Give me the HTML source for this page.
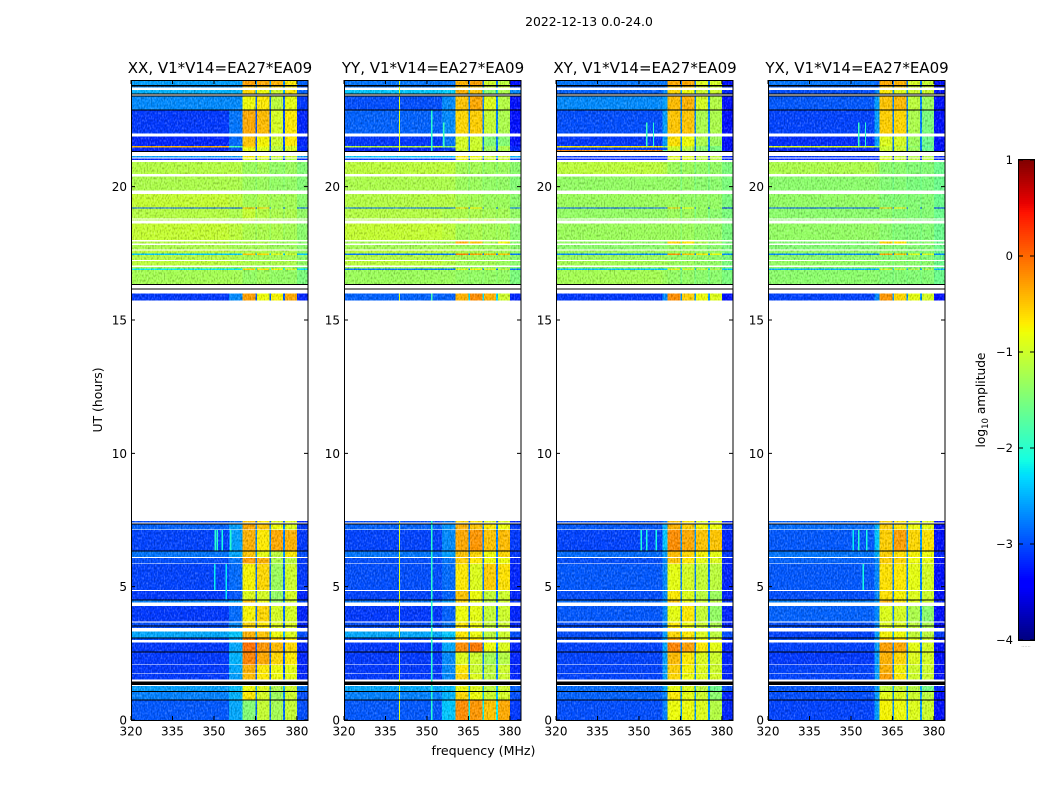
<!DOCTYPE html>
<html lang="en">
<head>
<meta charset="utf-8">
<title>2022-12-13 0.0-24.0</title>
<style>
html,body{margin:0;padding:0;background:#fff;width:1050px;height:800px;overflow:hidden}
svg{display:block}
text{font-family:"DejaVu Sans","Liberation Sans",sans-serif;fill:#000}
</style>
</head>
<body>
<svg id="figure" xmlns="http://www.w3.org/2000/svg" width="1050" height="800" viewBox="0 0 1050 800">
  <defs>
    <filter id="grain" filterUnits="objectBoundingBox" x="0" y="0" width="1" height="1" color-interpolation-filters="sRGB">
      <feTurbulence type="fractalNoise" baseFrequency="0.7 0.4" numOctaves="1" seed="4" result="n"/>
      <feColorMatrix in="n" type="matrix" values="0.42 0 0 0 0.29  0.42 0 0 0 0.29  0.42 0 0 0 0.29  0 0 0 0 1" result="g"/>
      <feBlend in="g" in2="SourceGraphic" mode="hard-light" result="b"/>
      <feComposite in="b" in2="SourceAlpha" operator="in"/>
    </filter>
  </defs>
  <text x="589" y="26" font-size="12.4" text-anchor="middle">2022-12-13 0.0-24.0</text>
  <text x="483.5" y="755" font-size="12.6" text-anchor="middle">frequency (MHz)</text>
  <text x="102" y="400" font-size="12.4" text-anchor="middle" transform="rotate(-90 102 400)">UT (hours)</text>
  <text x="985" y="400" font-size="12.2" text-anchor="middle" transform="rotate(-90 985 400)">log<tspan font-size="8.5" dy="3">10</tspan><tspan dy="-3"> amplitude</tspan></text>
  <g id="panels"></g>
  <g id="colorbar"></g>
  <text x="1026" y="647" font-size="5" text-anchor="middle" style="fill:#888">......</text>
</svg>
<script>
// ---- shared axis values ----
const panelTitles = ["XX, V1*V14=EA27*EA09","YY, V1*V14=EA27*EA09","XY, V1*V14=EA27*EA09","YX, V1*V14=EA27*EA09"];
const freqTicks = [320,335,350,365,380];
const hourTicks = [0,5,10,15,20];
const colorbarTicks = [1,0,-1,-2,-3,-4];
// frequency column edges in MHz; the first inner edge (start of the transition column) differs per panel
const freqEdges = [320,355.5,360.3,365,365.6,370,370.6,375,375.6,380,384];
const transitionStart = [355.5,355.5,358.5,358.5];
// which level of a row each column uses: low, mid, b1, gap, b2, gap, b3, gap, b4, high
const columnLevel = [0,1,2,7,3,7,4,7,5,6];
// time segments in hours
const rowStart = [0,.775,1.0875,1.525,1.75,2.0875,2.5625,3,3.0875,3.45,3.55,3.6875,4.4,4.525,4.875,5.875,6.1125,6.3625,7.15,7.4,15.725,16.35,16.88,16.94,17.04,17.25,17.44,17.49,17.65,17.875,18,18.725,18.81,19.175,19.21,19.85,20.475,21,21.1,21.34,21.38,21.47,21.53,22,22.89,23.5,23.71,23.81];
const rowEnd   = [.75,1.0625,1.275,1.725,2.0625,2.5375,2.9125,3.0625,3.3125,3.525,3.65,4.275,4.5,4.8375,5.85,6.075,6.325,7.125,7.325,7.46,16,16.88,16.94,16.99,17.21,17.44,17.49,17.61,17.81,17.94,18.625,18.775,19.175,19.21,19.725,20.375,20.925,21.05,21.15,21.38,21.47,21.53,21.875,22.85,23.4,23.625,23.75,24];
// flagged (black) time segments in hours
const blackStart = [.75,1.0625,1.3125,2.5375,3.0625,3.525,4.5,6.325,7.325,16.16,16.31,21.3,22.85,23.4,23.455,23.75];
const blackEnd   = [.775,1.0875,1.4375,2.5625,3.0875,3.55,4.525,6.3625,7.375,16.19,16.35,21.34,22.89,23.42,23.5,23.81];

// ---- log10 amplitude per row: low, mid, b1, b2, b3, b4, high, gap ----
const levelsXX = [
[-2.95,-2.55,-1.45,-1.05,-1.25,-1.05,-3,-2.85],
[-2.75,-2.5,-.7,-.95,-1.3,-1,-3,-2.75],
[-2.6,-2.45,-.8,-.9,-1.2,-1,-2.8,-2.55],
[-3.1,-2.6,-.45,-.7,-.8,-.85,-3.2,-2.95],
[-3.1,-2.55,-.4,-.7,-.8,-.85,-3.2,-2.95],
[-3.1,-2.5,-.15,-.35,-.6,-.7,-3.2,-2.95],
[-3.1,-2.55,-.05,-.25,-.45,-.6,-3.2,-2.95],
[-3,-2.6,-.1,-.3,-.5,-.7,-3.2,-2.95],
[-2.55,-2.4,-.4,-.5,-.8,-.9,-3,-2.55],
[-3,-2.7,-.6,-.7,-.9,-.9,-3.2,-2.85],
[-3,-2.7,-.6,-.7,-.9,-.9,-3.2,-2.85],
[-3.1,-2.85,-.75,-.6,-.95,-.95,-3.2,-2.85],
[-2.75,-2.55,-.5,-.8,-1.3,-1,-3,-2.65],
[-3.1,-2.95,-.9,-.95,-1.35,-.95,-3.2,-2.85],
[-3.05,-2.85,-.75,-.6,-1.3,-1,-3.1,-2.85],
[-3,-2.8,-.3,-.4,-1.2,-1.1,-3.1,-2.85],
[-2.8,-2.55,-.5,-.85,-1.1,-.7,-3,-2.65],
[-3.05,-2.6,-.4,-.7,-.35,-.4,-3.1,-2.75],
[-2.9,-2.6,-.35,-.5,-.8,-.9,-3.1,-2.75],
[-3,-2.85,-.5,-.7,-.9,-.9,-3.2,-2.95],
[-3.1,-2.7,-.3,-.8,-.75,-.35,-3.2,-2.95],
[-1.25,-1.25,-1.35,-1.3,-1.35,-1.35,-1.5,-1.35],
[-2.2,-2.2,-.6,-.7,-.8,-1,-2.3,-2.2],
[-1.25,-1.3,-1.35,-1.35,-1.35,-1.35,-1.5,-1.35],
[-1.1,-1.15,-1.2,-1.2,-1.2,-1.2,-1.35,-1.25],
[-1.15,-1.2,-1.25,-1.25,-1.25,-1.25,-1.4,-1.3],
[-2.4,-2.4,-.5,-.6,-.9,-1,-2.4,-2.4],
[-1.1,-1.15,-1.2,-1.2,-1.2,-1.2,-1.35,-1.25],
[-1.2,-1.25,-1.25,-1.25,-1.3,-1.3,-1.4,-1.3],
[-1.15,-1.25,-1.2,-1.2,-1.3,-1.3,-1.4,-1.3],
[-1.05,-1.1,-1.2,-1.2,-1.2,-1.25,-1.4,-1.3],
[-1.15,-1.2,-1.05,-1.15,-1.2,-1.2,-1.35,-1.3],
[-1.15,-1.2,-1.05,-1.15,-1.2,-1.2,-1.35,-1.3],
[-3,-3,-.4,-.5,-1.3,-1.3,-3,-3],
[-1.05,-1.1,-1.25,-1.2,-1.25,-1.25,-1.4,-1.3],
[-1.2,-1.2,-1.3,-1.3,-1.35,-1.35,-1.45,-1.4],
[-1.15,-1.15,-1.3,-1.25,-1.35,-1.3,-1.45,-1.4],
[-3.2,-3.2,-.9,-1,-1.2,-1.2,-3.2,-3.2],
[-2.6,-2.6,-.7,-.8,-1,-1,-2.6,-2.6],
[-3.2,-3,-.8,-.9,-1.1,-.9,-3.2,-3],
[-3.2,-3,-.8,-.9,-1.1,-.9,-3.2,-3],
[-.4,-1.8,-.6,-.8,-1.1,-.9,-3.1,-2.9],
[-3.2,-2.85,-.5,-.75,-1,-.7,-3.2,-3],
[-3.1,-2.8,-.35,-.45,-.95,-.7,-3.2,-3],
[-2.7,-2.7,-.8,-.7,-1.1,-.85,-3.1,-2.9],
[-2.5,-2.5,-.6,-.8,-1,-.7,-2.9,-2.55],
[-2.7,-2.7,-.5,-.5,-.6,-.7,-3,-2.65],
[-2.6,-2.6,-.3,-.35,-.4,-.7,-2.9,-2.65]];

const levelsYY = [
[-2.95,-2.4,-.2,-.25,-.5,-.35,-3.1,-2.2],
[-2.75,-2.5,-.6,-.8,-1,-.95,-3,-2.45],
[-2.55,-2.45,-.8,-.9,-1.1,-1,-2.9,-2.45],
[-3.1,-2.7,-.6,-.9,-1.1,-1,-3.2,-2.75],
[-3.1,-2.7,-.7,-1,-1.1,-1,-3.2,-2.75],
[-3.1,-2.7,-.9,-1,-1.25,-1.15,-3.2,-2.75],
[-3.1,-2.55,-.2,-.1,-.8,-.9,-3.2,-2.75],
[-3,-2.6,-.6,-.7,-1,-1,-3.2,-2.75],
[-2.55,-2.4,-.7,-.8,-1.1,-1,-3,-2.55],
[-3,-2.8,-.7,-.8,-1.05,-1,-3.2,-2.85],
[-3,-2.8,-.7,-.8,-1.05,-1,-3.2,-2.85],
[-3.1,-2.9,-.8,-.85,-1.05,-1,-3.2,-2.85],
[-2.8,-2.6,-.6,-.85,-1.1,-1,-3.1,-2.75],
[-3.05,-2.9,-.5,-.8,-1.05,-1,-3.2,-2.85],
[-3,-2.85,-.7,-.9,-.55,-.65,-3.2,-2.85],
[-3,-2.8,-.55,-.7,-.8,-.8,-3.2,-2.85],
[-2.8,-2.6,-.5,-.6,-.8,-.6,-3.1,-2.75],
[-3.05,-2.7,-.35,-.25,-.5,-.45,-3.1,-2.75],
[-2.9,-2.65,-.4,-.5,-.7,-.8,-3.1,-2.75],
[-3,-2.8,-.6,-.7,-.9,-.9,-3.2,-2.95],
[-2.9,-2.9,-.4,-.2,-.4,-1,-3.2,-2.3],
[-1.3,-1.3,-1.35,-1.35,-1.35,-1.35,-1.5,-1.4],
[-2.8,-2.8,-.9,-.8,-1,-1.1,-2.8,-2.8],
[-1.25,-1.3,-1.35,-1.35,-1.35,-1.35,-1.5,-1.4],
[-1.1,-1.15,-1.25,-1.25,-1.25,-1.3,-1.4,-1.3],
[-1.15,-1.2,-1.25,-1.25,-1.3,-1.3,-1.4,-1.3],
[-2.8,-2.8,-.1,-.3,-.4,-.5,-2.8,-2.8],
[-1.1,-1.15,-1.2,-1.2,-1.25,-1.25,-1.35,-1.3],
[-1.25,-1.25,-1.3,-1.3,-1.3,-1.3,-1.4,-1.3],
[-1.25,-1.25,-.4,-.5,-1.2,-.8,-1.4,-1.3],
[-1.05,-1.1,-1.25,-1.2,-1.25,-1.25,-1.4,-1.3],
[-1.15,-1.2,-.9,-1.15,-1,-1.2,-1.35,-1.3],
[-1.15,-1.2,-1.2,-1.2,-1.25,-1.25,-1.35,-1.3],
[-2.9,-2.9,-.6,-.7,-1.3,-1.3,-2.9,-2.9],
[-1.15,-1.15,-1.25,-1.25,-1.3,-1.3,-1.4,-1.3],
[-1.2,-1.2,-1.3,-1.3,-1.35,-1.35,-1.45,-1.4],
[-1.1,-1.1,-1.25,-1.25,-1.3,-1.3,-1.4,-1.4],
[-3.1,-3.1,-.8,-.9,-1,-1,-3.1,-3.1],
[-2.4,-2.4,-.7,-.8,-1,-1,-2.5,-2.4],
[-3.2,-3.1,-1,-1,-1.3,-1.2,-3.2,-2.85],
[-3.2,-3.1,-1,-1,-1.3,-1.2,-3.2,-2.85],
[-1.1,-1.4,-.9,-1,-1.3,-1.2,-3.2,-2.85],
[-3.1,-2.8,-.95,-1,-1.45,-1.45,-3.3,-2.75],
[-2.9,-2.7,-.6,-.55,-1.05,-1.2,-3.3,-2.75],
[-3,-2.7,-.5,-.35,-.9,-1.15,-3.3,-2.75],
[-2.4,-2.35,-.4,-.5,-1.4,-1.2,-2.7,-2.35],
[-2.8,-2.7,-.5,-.5,-1,-1,-3.1,-2.75],
[-2.8,-2.8,-.4,-.3,-1,-1.1,-3.3,-2.85]];

const levelsXY = [
[-3,-2.75,-.8,-.8,-.9,-1.15,-3.2,-2.65],
[-2.9,-2.75,-.7,-.85,-1,-1.4,-3.2,-2.65],
[-2.85,-2.55,-.85,-.9,-1.1,-1.6,-3,-2.55],
[-3.05,-2.6,-.6,-.8,-.9,-.95,-3.2,-2.75],
[-3.05,-2.6,-.55,-.75,-.9,-1,-3.2,-2.75],
[-3.05,-2.6,-.45,-.7,-.9,-1,-3.2,-2.75],
[-3.05,-2.55,-.15,-.3,-.7,-.85,-3.2,-2.75],
[-3,-2.55,-.3,-.5,-.8,-.9,-3.2,-2.75],
[-3,-2.6,-.6,-.7,-.9,-1.1,-3,-2.55],
[-3,-2.7,-.7,-.8,-1,-1.2,-3.2,-2.75],
[-3,-2.7,-.7,-.8,-1,-1.2,-3.2,-2.75],
[-2.95,-2.7,-.85,-.7,-1.05,-1.35,-3.2,-2.75],
[-2.85,-2.6,-.5,-.8,-1,-1.1,-3.1,-2.65],
[-3,-2.7,-.7,-.9,-1.1,-1.3,-3.2,-2.75],
[-2.95,-2.7,-.85,-.95,-1.05,-1.1,-3.2,-2.75],
[-3,-2.7,-.5,-.7,-.85,-.9,-3.2,-2.75],
[-2.85,-2.6,-.45,-.6,-.75,-.85,-3.1,-2.65],
[-3.05,-2.4,-.2,-.35,-.5,-.5,-3.2,-2.65],
[-2.95,-2.5,-.4,-.55,-.75,-.8,-3.1,-2.65],
[-3,-2.8,-.5,-.7,-.9,-.9,-3.2,-2.95],
[-3.1,-2.7,-.2,-.55,-.8,-.9,-3.3,-2.65],
[-1.25,-1.3,-1.35,-1.35,-1.4,-1.4,-1.5,-1.5],
[-2.4,-2.4,-.9,-1,-1.1,-1.2,-2.4,-2.4],
[-1.35,-1.35,-1.35,-1.35,-1.4,-1.4,-1.5,-1.5],
[-1.25,-1.25,-1.3,-1.3,-1.35,-1.35,-1.5,-1.4],
[-1.3,-1.3,-1.35,-1.35,-1.35,-1.4,-1.5,-1.4],
[-2.7,-2.7,-.2,-.5,-.7,-.8,-2.7,-2.7],
[-1.3,-1.3,-1.3,-1.3,-1.35,-1.35,-1.5,-1.4],
[-1.4,-1.4,-1.35,-1.35,-1.4,-1.4,-1.5,-1.5],
[-1.35,-1.4,-.6,-.7,-1.2,-1.3,-1.5,-1.4],
[-1.3,-1.3,-1.3,-1.3,-1.35,-1.35,-1.5,-1.4],
[-1.35,-1.35,-1.2,-1.3,-1.3,-1.3,-1.5,-1.5],
[-1.35,-1.35,-1.3,-1.3,-1.35,-1.4,-1.5,-1.5],
[-3,-3,-.5,-.8,-1.3,-1.3,-3.2,-3],
[-1.3,-1.3,-1.3,-1.35,-1.35,-1.35,-1.5,-1.4],
[-1.35,-1.35,-1.35,-1.35,-1.4,-1.4,-1.5,-1.5],
[-1.1,-1.15,-1.3,-1.3,-1.35,-1.35,-1.5,-1.5],
[-3.2,-3.2,-.9,-.9,-1.1,-1.1,-3.2,-3.2],
[-3.1,-3.1,-.9,-.9,-1.1,-1.1,-3.2,-3.2],
[-.15,-1.6,-1,-1.1,-1.4,-1.5,-3.3,-2.85],
[-3.1,-3,-1,-1.1,-1.4,-1.5,-3.3,-2.85],
[-.7,-1.3,-.9,-1,-1.4,-1.5,-3.3,-2.85],
[-3.1,-2.6,-.65,-.8,-1.2,-1.3,-3.3,-2.75],
[-3,-2.6,-.5,-.5,-1.2,-1.2,-3.3,-2.75],
[-2.7,-2.6,-.45,-.4,-.95,-1.15,-3.3,-2.75],
[-2.9,-2.7,-.6,-.8,-1,-1,-3.2,-2.65],
[-2.9,-2.8,-.5,-.5,-.9,-1,-3.2,-2.75],
[-2.8,-2.8,-.35,-.35,-.9,-.95,-3.3,-2.85]];

const levelsYX = [
[-3.05,-2.6,-.75,-.8,-.9,-1,-3.3,-2.65],
[-3,-2.6,-.85,-.9,-1,-1.1,-3.3,-2.65],
[-2.95,-2.6,-1.1,-1.05,-1.15,-1.55,-3.2,-2.55],
[-3.05,-2.6,-.3,-.7,-1,-1,-3.3,-2.75],
[-3.05,-2.6,-.4,-.75,-1,-1,-3.3,-2.75],
[-3.1,-2.6,-.4,-.6,-.9,-.95,-3.3,-2.75],
[-3.05,-2.6,-.3,-.35,-.85,-.95,-3.3,-2.75],
[-3,-2.6,-.5,-.6,-.9,-1,-3.3,-2.75],
[-3.05,-2.6,-.75,-.8,-1.05,-1.1,-3.1,-2.55],
[-3,-2.7,-.9,-.9,-1.1,-1.2,-3.3,-2.75],
[-3,-2.7,-.9,-.9,-1.1,-1.2,-3.3,-2.75],
[-2.9,-2.7,-.9,-.95,-1.2,-1.4,-3.3,-2.75],
[-2.75,-2.6,-.4,-.7,-.9,-1,-3.2,-2.65],
[-3,-2.7,-.65,-.75,-.9,-1,-3.3,-2.75],
[-2.95,-2.7,-.65,-.7,-.85,-.95,-3.3,-2.75],
[-2.9,-2.7,-.55,-.6,-.8,-.85,-3.3,-2.75],
[-2.8,-2.5,-.55,-.65,-.75,-.8,-3.2,-2.65],
[-2.95,-2.4,-.55,-.3,-.6,-.65,-3.3,-2.65],
[-2.85,-2.5,-.55,-.65,-.8,-.85,-3.3,-2.65],
[-2.9,-2.8,-.6,-.7,-.9,-.9,-3.3,-2.95],
[-3.05,-2.7,-.25,-.6,-.85,-.95,-3.3,-2.65],
[-1.4,-1.4,-1.45,-1.45,-1.45,-1.45,-1.6,-1.5],
[-2.5,-2.5,-1,-1.1,-1.2,-1.2,-2.5,-2.5],
[-1.4,-1.4,-1.45,-1.45,-1.45,-1.45,-1.6,-1.5],
[-1.35,-1.35,-1.4,-1.4,-1.4,-1.4,-1.6,-1.5],
[-1.4,-1.4,-1.45,-1.4,-1.4,-1.45,-1.6,-1.5],
[-2.7,-2.7,-.3,-.5,-.9,-.9,-2.7,-2.7],
[-1.35,-1.35,-1.4,-1.4,-1.45,-1.45,-1.6,-1.5],
[-1.45,-1.45,-1.45,-1.45,-1.45,-1.45,-1.6,-1.5],
[-1.45,-1.45,-.6,-.7,-1.4,-1.4,-1.6,-1.5],
[-1.35,-1.35,-1.4,-1.45,-1.45,-1.45,-1.6,-1.5],
[-1.4,-1.4,-1.2,-1.3,-1.45,-1.45,-1.6,-1.5],
[-1.4,-1.4,-1.4,-1.45,-1.45,-1.45,-1.6,-1.5],
[-3,-3,-.5,-.7,-1.4,-1.4,-3.2,-3],
[-1.35,-1.35,-1.45,-1.45,-1.45,-1.45,-1.6,-1.5],
[-1.4,-1.4,-1.45,-1.45,-1.5,-1.5,-1.6,-1.55],
[-1.2,-1.25,-1.4,-1.4,-1.45,-1.45,-1.6,-1.5],
[-3.2,-3.2,-.9,-1,-1.1,-1.1,-3.2,-3.2],
[-3.1,-3.1,-1,-1.1,-1.2,-1.2,-3.2,-3.2],
[-3.2,-3.1,-1,-1,-1.3,-1.6,-3.3,-2.85],
[-3.2,-3.1,-1,-1,-1.3,-1.6,-3.3,-2.85],
[-.9,-1.4,-1,-1.1,-1.4,-1.7,-3.3,-2.85],
[-3.15,-2.6,-.9,-.95,-1.3,-1.6,-3.3,-2.75],
[-3.05,-2.6,-.55,-.6,-1.2,-1.5,-3.3,-2.75],
[-2.95,-2.6,-.5,-.45,-1.1,-1.3,-3.3,-2.75],
[-3,-2.7,-.7,-.9,-1,-1,-3.3,-2.65],
[-2.9,-2.9,-.5,-.5,-1,-1,-3.3,-2.75],
[-2.8,-2.9,-.35,-.4,-.95,-1.05,-3.3,-2.85]];

// ---- narrow vertical features: frequency MHz, start hour, end hour, level ----
const featuresXX = [[350.2,6.36,7.12,-2],[351,6.36,7.12,-2],[352.8,6.36,7.12,-2.1],[355.8,6.36,7.12,-2],[350,4.87,5.85,-2.2],[354.2,4.5,5.85,-2.2]];
const featuresYY = [[339.8,0,2.9,-.9],[339.8,3.09,7.46,-.9],[351.5,0,7.46,-2],[339.8,21.34,24,-.9],[351.5,21.34,22.85,-2],[355.8,21.5,22.4,-1.9],[339.8,15.725,16,-.9],[351.5,15.725,16,-1.8]];
const featuresXY = [[350.5,6.36,7.12,-2.1],[352.5,6.36,7.12,-2.1],[356,6.36,7.12,-2.1],[352.6,21.5,22.4,-1.9],[355,21.5,22.4,-2]];
const featuresYX = [[350.5,6.36,7.12,-2.2],[352.5,6.36,7.12,-2],[355.5,6.36,7.12,-2.1],[354.2,4.875,5.85,-2.1],[352.6,21.5,22.4,-1.9],[355,21.5,22.4,-2]];
const panelLevels = [levelsXX,levelsYY,levelsXY,levelsYX];
const panelFeatures = [featuresXX,featuresYY,featuresXY,featuresYX];

// ---- axes ----
const SVGNS = "http://www.w3.org/2000/svg";
const panelLeft = [131,344,556,768];
const panelWidth = 177, plotTop = 80, plotBottom = 720;
const freqMin = 320, freqMax = 384, hourMin = 0, hourMax = 24;
function xScale(p,f){ return panelLeft[p] + (f-freqMin)/(freqMax-freqMin)*panelWidth; }
function yScale(h){ return plotBottom - (h-hourMin)/(hourMax-hourMin)*(plotBottom-plotTop); }
const cbTop = 160, cbBottom = 640, cbLeft = 1019, cbWidth = 15, cbMin = -4, cbMax = 1;
function cbScale(v){ return cbBottom - (v-cbMin)/(cbMax-cbMin)*(cbBottom-cbTop); }

function jetColor(v){
  const t = Math.max(0,Math.min(1,(v-cbMin)/(cbMax-cbMin)));
  const seg = (pts)=>{ for(let i=1;i<pts.length;i++){ if(t<=pts[i][0]){ const a=pts[i-1],b=pts[i]; return a[1]+(b[1]-a[1])*(t-a[0])/(b[0]-a[0]); } } return pts[pts.length-1][1]; };
  const r = seg([[0,0],[.35,0],[.66,1],[.89,1],[1,.5]]);
  const g = seg([[0,0],[.125,0],[.375,1],[.64,1],[.91,0],[1,0]]);
  const b = seg([[0,.5],[.11,1],[.34,1],[.65,0],[1,0]]);
  return "rgb("+Math.round(r*255)+","+Math.round(g*255)+","+Math.round(b*255)+")";
}
function make(tag,attrs,parent){
  const el = document.createElementNS(SVGNS,tag);
  for(const k in attrs) el.setAttribute(k,attrs[k]);
  parent.appendChild(el);
  return el;
}
const panelsRoot = document.getElementById("panels");
panelTitles.forEach((title,p)=>{
  const g = make("g",{},panelsRoot);
  
  
  const cells = make("g",{filter:"url(#grain)"},g);
  
  
  const edges = freqEdges.slice();
  edges[1] = transitionStart[p];
  // heatmap cells
  panelLevels[p].forEach((levels,r)=>{
    columnLevel.forEach((li,c)=>{
      const x0 = xScale(p,edges[c]), x1 = xScale(p,edges[c+1]);
      const y0 = yScale(rowEnd[r]), y1 = yScale(rowStart[r]);
      const cell = make("rect",{x:x0,y:y0,width:x1-x0,height:Math.max(y1-y0,1),fill:jetColor(levels[li]),"shape-rendering":"crispEdges"},cells);
      
      
    });
  });
  // vertical interference features
  panelFeatures[p].forEach(ft=>{
    const x0 = xScale(p,ft[0]);
    const y0 = yScale(ft[2]), y1 = yScale(ft[1]);
    const line = make("rect",{x:x0,y:y0,width:1.4,height:y1-y0,fill:jetColor(ft[3]),"shape-rendering":"crispEdges"},g);
    
    
  });
  // flagged rows
  blackStart.forEach((s,i)=>{
    const y0 = yScale(blackEnd[i]), y1 = yScale(s);
    const band = make("rect",{x:xScale(p,freqMin),y:y0,width:panelWidth,height:Math.max(y1-y0,1),fill:"#000","shape-rendering":"crispEdges"},g);
    
    
  });
  // frame
  const frame = make("rect",{x:panelLeft[p]+.5,y:plotTop+.5,width:panelWidth-.5,height:plotBottom-plotTop,fill:"none",stroke:"#000","stroke-width":1},g);
  
  
  // x ticks
  freqTicks.forEach(f=>{
    const x = xScale(p,f);
    const tk = make("path",{d:"M"+x+" "+plotBottom+"v-4M"+x+" "+plotTop+"v4",stroke:"#000","stroke-width":1,fill:"none"},g);
    
    
    const t = make("text",{x:x,y:735.5,"font-size":12,"text-anchor":"middle"},g);
    
    
    t.textContent = f;
  });
  // y ticks
  hourTicks.forEach(h=>{
    const y = yScale(h);
    const tk = make("path",{d:"M"+panelLeft[p]+" "+y+"h4M"+(panelLeft[p]+panelWidth)+" "+y+"h-4",stroke:"#000","stroke-width":1,fill:"none"},g);
    
    
    const t = make("text",{x:panelLeft[p]-4,y:y+4.5,"font-size":12,"text-anchor":"end"},g);
    
    
    t.textContent = h;
  });
  const ttl = make("text",{x:panelLeft[p]+panelWidth/2+.5,y:73,"font-size":15,"text-anchor":"middle"},g);
  
  
  ttl.textContent = title;
});

// ---- colorbar ----
const cbRoot = document.getElementById("colorbar");
for(let py=cbTop;py<cbBottom;py+=2){
  const v = cbMax-(py+1-cbTop)/(cbBottom-cbTop)*(cbMax-cbMin);
  const s = make("rect",{x:cbLeft,y:py,width:cbWidth,height:2,fill:jetColor(v),"shape-rendering":"crispEdges"},cbRoot);
  
  
}
const cbFrame = make("rect",{x:cbLeft-.5,y:cbTop-.5,width:cbWidth+1,height:cbBottom-cbTop+1,fill:"none",stroke:"#000","stroke-width":1},cbRoot);


colorbarTicks.forEach(v=>{
  const y = cbScale(v);
  const tk = make("path",{d:"M"+cbLeft+" "+y+"h4M"+(cbLeft+cbWidth)+" "+y+"h-4",stroke:"#000","stroke-width":1,fill:"none"},cbRoot);
  
  
  const t = make("text",{x:1013,y:y+4,"font-size":11.5,"text-anchor":"end"},cbRoot);
  
  
  t.textContent = String(v).replace("-","\u2212");
});
</script>
</body>
</html>
